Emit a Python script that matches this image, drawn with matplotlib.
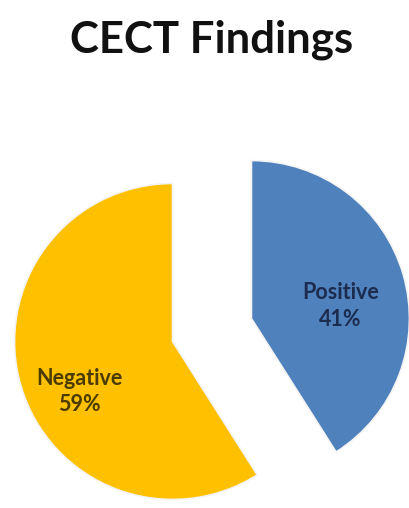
import numpy as np
import matplotlib
matplotlib.use("Agg")
from matplotlib import pyplot as plt

# data
categories = ["Positive", "Negative"]
shares = [41, 59]
colors = ["#4F81BD", "#FFC000"]
text_colors = ["#1B2C4F", "#4A3B00"]

W, H, DPI = 410, 508, 100
R_PX = 158                # pie radius in pixels
CX, CY = 212, 330         # pie centre in pixels (from top-left)

fig = plt.figure(figsize=(W / DPI, H / DPI), dpi=DPI)
ax = fig.add_axes([0, 0, 1, 1])

wedges, _ = ax.pie(shares, colors=colors, startangle=90, counterclock=False,
                   explode=[0.26, 0.26], radius=1.0,
                   wedgeprops=dict(edgecolor="#F4F4F4", linewidth=1.2))

# 1 data unit == R_PX pixels on both axes
ax.set_xlim(-CX / R_PX, (W - CX) / R_PX)
ax.set_ylim(-(H - CY) / R_PX, CY / R_PX)
ax.set_aspect("auto")
ax.axis("off")

# labels placed inside each wedge
label_dist = [0.57, 0.67]
label_turn = [-8, 12]     # degrees off the bisector
for w, name, val, tc, d, t in zip(wedges, categories, shares, text_colors,
                                  label_dist, label_turn):
    ang = np.deg2rad((w.theta1 + w.theta2) / 2 + t)
    x = w.center[0] + d * w.r * np.cos(ang)
    y = w.center[1] + d * w.r * np.sin(ang)
    ax.text(x, y, f"{name}\n{val}%", ha="center", va="center",
            fontsize=15.5, fontweight="bold", color=tc, family="Lato",
            linespacing=1.35)

fig.text(212 / W, 1 - 40 / H, "CECT Findings", ha="center", va="center",
         fontsize=31.5, fontweight="bold", color="#111111", family="Lato")

fig.savefig("out.png", dpi=DPI, facecolor="white")
